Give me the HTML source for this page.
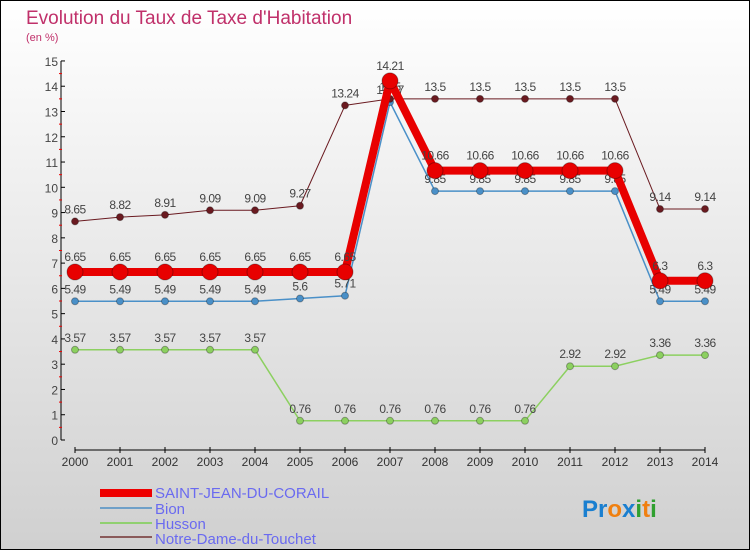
<!DOCTYPE html>
<html><head><meta charset="utf-8"><style>
body{margin:0;width:750px;height:550px;overflow:hidden;font-family:"Liberation Sans",sans-serif}
#wrap{position:absolute;left:0;top:0;width:748px;height:548px;border:1px solid #000;background:linear-gradient(#fff,#d0d0d0)}
</style></head><body>
<div id="wrap"></div>
<svg id="chart" width="750" height="550" style="position:absolute;left:0;top:0">
<text x="26" y="24" font-size="19" fill="#c0306a">Evolution du Taux de Taxe d'Habitation</text>
<text x="26" y="41" font-size="11" fill="#c0306a">(en %)</text>
<g id="axes"></g><g id="series"></g>
<g>
<rect x="100" y="489" width="52" height="8" fill="#e00"/>
<text x="155" y="498" font-size="15" fill="#6a6af0">SAINT-JEAN-DU-CORAIL</text>
<rect x="100" y="507" width="52" height="2" fill="#6fa0c8"/>
<text x="155" y="514" font-size="15" fill="#6a6af0">Bion</text>
<rect x="100" y="522" width="52" height="2" fill="#90d070"/>
<text x="155" y="529" font-size="15" fill="#6a6af0">Husson</text>
<rect x="100" y="536" width="52" height="2" fill="#8a5a5a"/>
<text x="155" y="544" font-size="15" fill="#6a6af0">Notre-Dame-du-Touchet</text>
</g>
<text x="582" y="517" font-size="24" font-weight="bold"><tspan fill="#1a7fd0">Pr</tspan><tspan fill="#f08010">o</tspan><tspan fill="#1a7fd0">x</tspan><tspan fill="#30a030">i</tspan><tspan fill="#f08010">t</tspan><tspan fill="#30a030">i</tspan></text>
</svg>
<script>
const years=[2000,2001,2002,2003,2004,2005,2006,2007,2008,2009,2010,2011,2012,2013,2014];
const yTicks=[0,1,2,3,4,5,6,7,8,9,10,11,12,13,14,15];
const saintJean=[6.65,6.65,6.65,6.65,6.65,6.65,6.65,14.21,10.66,10.66,10.66,10.66,10.66,6.3,6.3];
const bion=[5.49,5.49,5.49,5.49,5.49,5.6,5.71,13.37,9.85,9.85,9.85,9.85,9.85,5.49,5.49];
const husson=[3.57,3.57,3.57,3.57,3.57,0.76,0.76,0.76,0.76,0.76,0.76,2.92,2.92,3.36,3.36];
const notreDame=[8.65,8.82,8.91,9.09,9.09,9.27,13.24,13.5,13.5,13.5,13.5,13.5,13.5,9.14,9.14];
const NS='http://www.w3.org/2000/svg';
const X=i=>75+i*45, Y=v=>440-v*25.27;
function mk(p,t,a){const e=document.createElementNS(NS,t);for(const k in a)e.setAttribute(k,a[k]);p.appendChild(e);return e;}
const ax=document.getElementById('axes');
let l=mk(ax,'line',{x1:61,y1:Y(15),x2:61,y2:Y(0),stroke:'#000'});

l=mk(ax,'line',{x1:75,y1:450,x2:X(14),y2:450,stroke:'#000'});

yTicks.forEach(v=>{
 mk(ax,'line',{x1:61,y1:Y(v),x2:65,y2:Y(v),stroke:'#000'});
 if(v<15)mk(ax,'line',{x1:59,y1:Y(v+0.5),x2:62,y2:Y(v+0.5),stroke:'#e00'});
 const t=mk(ax,'text',{x:58,y:Y(v)+5,'font-size':12,'text-anchor':'end',fill:'#444'});t.textContent=v;
 
});
years.forEach((yr,i)=>{
 mk(ax,'line',{x1:X(i),y1:447,x2:X(i),y2:453,stroke:'#000'});
 const t=mk(ax,'text',{x:X(i),y:466,'font-size':12,'text-anchor':'middle',fill:'#333'});t.textContent=yr;
 
});
const sg=document.getElementById('series');
function draw(vals,color,w,r,name,dy){
 const g=mk(sg,'g',{});
 
 const p=mk(g,'polyline',{points:vals.map((v,i)=>X(i)+','+Y(v)).join(' '),fill:'none',stroke:color,'stroke-width':w,'stroke-linejoin':'round'});
 
 vals.forEach((v,i)=>{
  const c=mk(g,'circle',{cx:X(i),cy:Y(v),r:r,fill:color,stroke:'rgba(0,0,0,0.3)'});
  
  const t=mk(g,'text',{x:X(i),y:Y(v)-dy,'font-size':12,'text-anchor':'middle',fill:'#444','letter-spacing':'-0.5'});t.textContent=v;
  
 });
}
draw(husson,'#8cd060',1.5,3.5,'husson',8);
draw(bion,'#4a90c8',1.5,3.5,'bion',8);
draw(notreDame,'#6a1a20',1,3.5,'notre-dame',8);
draw(saintJean,'#e80000',8,8,'saint-jean',11);
</script>
</body></html>
